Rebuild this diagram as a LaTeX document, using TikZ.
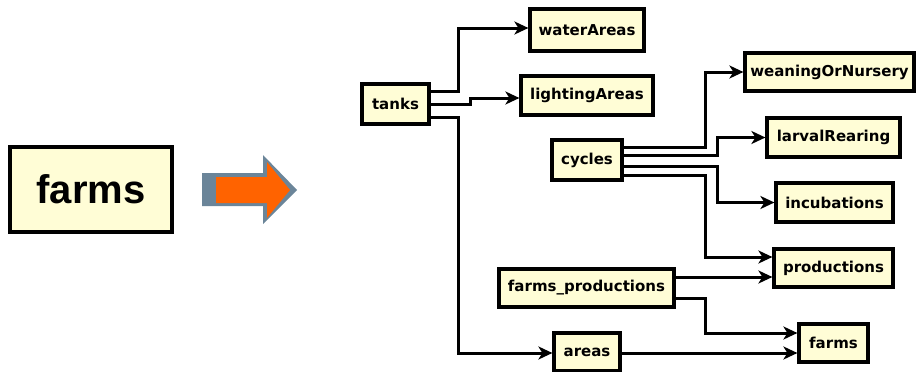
\documentclass[tikz,border=0pt]{standalone}
\usepackage{fontspec}
\setmainfont{DejaVu Sans}
\newfontfamily\bigfont{Liberation Sans}
\usetikzlibrary{arrows.meta}
\definecolor{boxfill}{HTML}{FFFDD6}
\definecolor{arrgray}{HTML}{6B8599}
\definecolor{arrorange}{HTML}{FF6300}
\tikzset{
  tbl/.style={draw=black, line width=3.2pt, fill=boxfill, inner sep=0pt, font=\fontsize{15}{17}\selectfont\bfseries},
  conn/.style={line width=3pt, -{Stealth[length=14pt,width=13pt,inset=4pt]}}
}
\begin{document}
\begin{tikzpicture}[x=1pt,y=-1pt]
\useasboundingbox (0,0) rectangle (918,372);
% left part
\node[tbl, minimum width=162pt, minimum height=85pt, font=\bigfont\fontsize{40}{44}\selectfont\bfseries] (big) at (91,189.5) {farms};
\fill[arrgray] (202,173) -- (263,173) -- (263,155) -- (297,190) -- (263,224) -- (263,206) -- (202,206) -- cycle;
\fill[arrorange] (216,177) -- (267,177) -- (267,162) -- (290,190) -- (267,218) -- (267,203) -- (216,203) -- cycle;
% nodes
\node[tbl, minimum width=67pt, minimum height=40pt] (tanks) at (395.5,104) {tanks};
\node[tbl, minimum width=114pt, minimum height=42pt] (water) at (587,30) {waterAreas};
\node[tbl, minimum width=132pt, minimum height=39pt] (light) at (587,95.5) {lightingAreas};
\node[tbl, minimum width=70pt, minimum height=40pt] (cycles) at (587,160) {cycles};
\node[tbl, minimum width=169pt, minimum height=38pt] (wean) at (829.5,72) {weaningOrNursery};
\node[tbl, minimum width=133pt, minimum height=39pt] (larval) at (833.5,137.5) {larvalRearing};
\node[tbl, minimum width=117pt, minimum height=39pt] (incub) at (834.5,202.5) {incubations};
\node[tbl, minimum width=119pt, minimum height=38pt] (prod) at (833.5,268) {productions};
\node[tbl, minimum width=175pt, minimum height=38pt] (fp) at (586.5,288) {farms\_productions};
\node[tbl, minimum width=69pt, minimum height=38pt] (farms) at (833.5,343) {farms};
\node[tbl, minimum width=66pt, minimum height=38pt] (areas) at (587,352) {areas};
% connectors
\draw[conn] ([yshift=13pt]tanks.east) -- ++(28,0) |- ([yshift=2pt]water.west);
\draw[conn] (tanks.east) -- ++(40,0) |- ([yshift=-2.5pt]light.west);
\draw[conn] ([yshift=-13pt]tanks.east) -- ++(28,0) |- ([yshift=-1pt]areas.west);
\draw[conn] ([yshift=13pt]cycles.east) -- ++(82,0) |- (wean.west);
\draw[conn] ([yshift=5pt]cycles.east) -- ++(94,0) |- (larval.west);
\draw[conn] ([yshift=-6pt]cycles.east) -- ++(94,0) |- (incub.west);
\draw[conn] ([yshift=-15pt]cycles.east) -- ++(82,0) |- ([yshift=11pt]prod.west);
\draw[conn] ([yshift=11pt]fp.east) -- ([yshift=11pt]fp.east -| prod.west);
\draw[conn] ([yshift=-10pt]fp.east) -- ++(30,0) |- ([yshift=10pt]farms.west);
\draw[conn] ([yshift=-1pt]areas.east) -- ([yshift=-1pt]areas.east -| farms.west);
\end{tikzpicture}
\end{document}
